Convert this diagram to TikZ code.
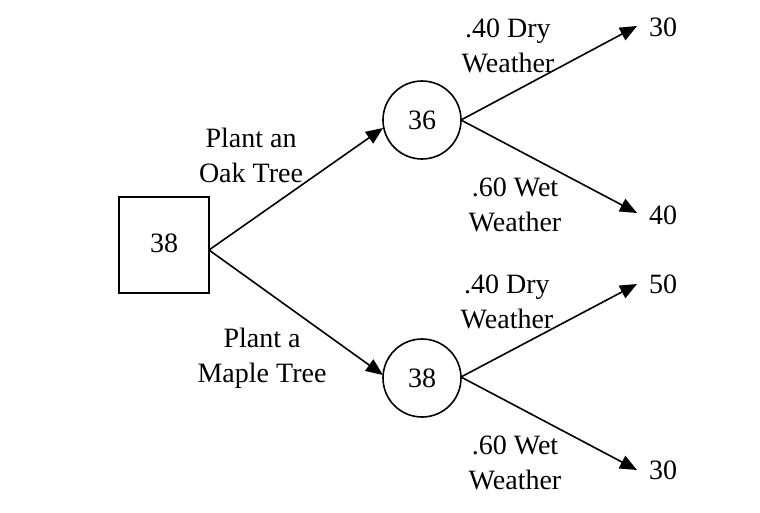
\documentclass[tikz,border=0pt]{standalone}
\usepackage{fontspec}
\setmainfont{Liberation Serif}
\usetikzlibrary{arrows.meta,calc}
\begin{document}
\begin{tikzpicture}[x=1pt,y=-1pt,
  every node/.style={font=\fontsize{28}{35}\selectfont},
  lbl/.style={align=center,inner sep=0pt},
  val/.style={inner sep=0pt},
  chance/.style={draw,circle,line width=1.6pt,minimum size=78pt,inner sep=0pt},
  decision/.style={draw,line width=1.6pt,minimum width=90pt,minimum height=96pt,inner sep=0pt},
  arr/.style={line width=1.6pt,-{Triangle[length=17pt,width=14pt]}}]
\useasboundingbox (0,0) rectangle (760,512);
\node[decision] (sq) at (164,245) {\raisebox{4pt}{38}};
\node[chance] (c1) at (422,120) {36};
\node[chance] (c2) at (422,378) {38};
\coordinate (s) at (209,250);
\coordinate (t1) at (383,128);
\coordinate (t2) at (383,375);
\coordinate (o1) at (461,120);
\coordinate (o2) at (461,377);
\node[val] (v1) at (663,27) {30};
\node[val] (v2) at (663,215) {40};
\node[val] (v3) at (663,284) {50};
\node[val] (v4) at (663,470) {30};
\coordinate (e1) at (637,26);
\coordinate (e2) at (637,213);
\coordinate (e3) at (637,284);
\coordinate (e4) at (637,470);
\draw[arr] (s) -- (t1);
\draw[arr] (s) -- (t2);
\draw[arr] (o1) -- (e1);
\draw[arr] (o1) -- (e2);
\draw[arr] (o2) -- (e3);
\draw[arr] (o2) -- (e4);
\node[lbl] (l1) at (251,155) {Plant an\\Oak Tree};
\node[lbl] (l2) at (262,358) {Plant a\\Maple Tree};
\node[lbl] (l3) at (508,46) {.40 Dry\\Weather};
\node[lbl] (l4) at (515,205) {.60 Wet\\Weather};
\node[lbl] (l5) at (507,302) {.40 Dry\\Weather};
\node[lbl] (l6) at (515,463) {.60 Wet\\Weather};
\end{tikzpicture}
\end{document}
